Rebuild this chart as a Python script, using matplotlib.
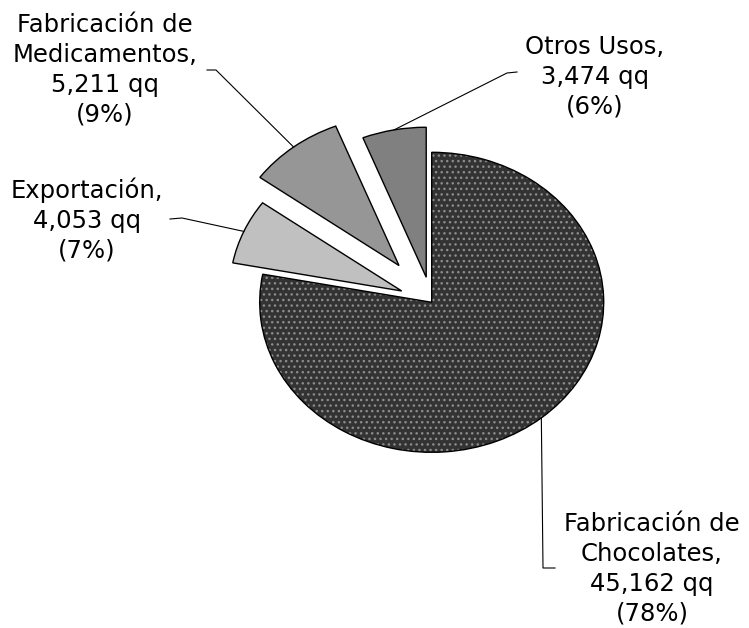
import matplotlib
matplotlib.use("Agg")
import matplotlib.pyplot as plt
from matplotlib.patches import Wedge
import numpy as np

# ---- data ----
categories = ["Fabricación de Chocolates", "Exportación",
              "Fabricación de Medicamentos", "Otros Usos"]
values = [45162, 4053, 5211, 3474]
label_texts = ["Fabricación de\nChocolates,\n45,162 qq\n(78%)",
               "Exportación,\n4,053 qq\n(7%)",
               "Fabricación de\nMedicamentos,\n5,211 qq\n(9%)",
               "Otros Usos,\n3,474 qq\n(6%)"]

# ---- style ----
colors = ["#333333", "#C0C0C0", "#969696", "#808080"]
explode = [0.0, 0.19, 0.31, 0.17]

W, H = 749, 628
CX, CY, RX, RY = 431.7, 302.3, 172.0, 150.0

fig = plt.figure(figsize=(W / 100, H / 100), dpi=100)
ax = fig.add_axes([0, 0, 1, 1])

wedges, _ = ax.pie(values, colors=colors, explode=explode, startangle=90,
                   counterclock=False, radius=1.0,
                   wedgeprops=dict(edgecolor="black", linewidth=1.0))

ax.set_aspect("auto")
ax.set_xlim(-CX / RX, (W - CX) / RX)
ax.set_ylim(-(H - CY) / RY, CY / RY)
ax.axis("off")


def px(x, y):
    return (x - CX) / RX, (CY - y) / RY


# dotted pattern for the big slice
plt.rcParams["hatch.linewidth"] = 0.6
w0 = wedges[0]
w0.set_linewidth(0)
w0.set_hatch("...")
w0.set_edgecolor("#8c8c8c")
ax.add_patch(Wedge(w0.center, w0.r, w0.theta1, w0.theta2, fill=False,
                   edgecolor="black", linewidth=1.0, zorder=3))

text_pos = [(652, 569), (87, 220), (105, 70), (595, 77)]
leader_start = [[(555, 568), (543, 568)],
                [(170, 219), (182, 218)],
                [(207, 70), (216, 70)],
                [(517, 72), (507, 73)]]

for w, txt, tp, ls in zip(wedges, label_texts, text_pos, leader_start):
    mid = np.deg2rad((w.theta1 + w.theta2) / 2)
    ax_, ay_ = w.center[0] + w.r * np.cos(mid), w.center[1] + w.r * np.sin(mid)
    pts = [px(*p) for p in ls] + [(ax_, ay_)]
    ax.plot([p[0] for p in pts], [p[1] for p in pts], color="black", lw=0.8,
            zorder=4)
    tx, ty = px(*tp)
    ax.text(tx, ty, txt, ha="center", va="center", fontsize=17.5,
            family="DejaVu Sans", linespacing=1.3, color="black")

fig.savefig("out.png", dpi=100, facecolor="white")
